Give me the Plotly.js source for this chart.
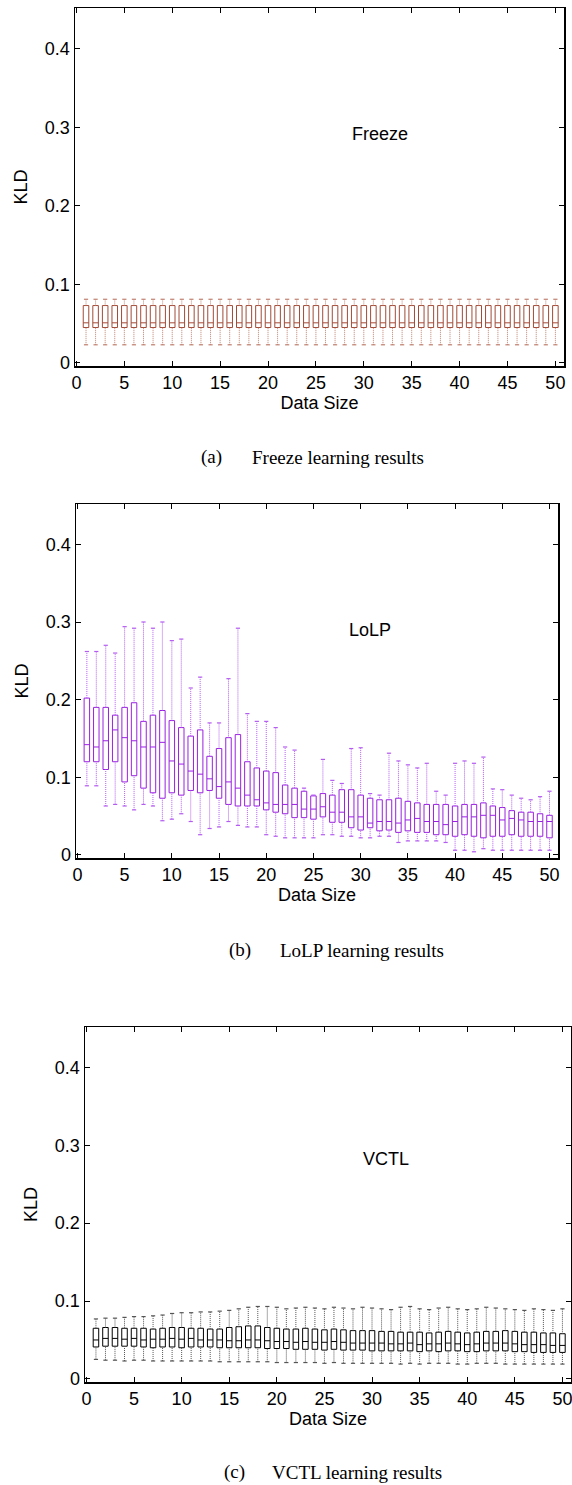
<!DOCTYPE html>
<html>
<head>
<meta charset="utf-8">
<script src="https://cdn.plot.ly/plotly-3.0.1.min.js"></script>
<style>html,body{margin:0;padding:0;background:#fff;}#chart{width:572px;height:1485px;}</style>
</head>
<body>
<div id="chart"></div>
<script>
// ---- data ----
const dataSize = [1,2,3,4,5,6,7,8,9,10,11,12,13,14,15,16,17,18,19,20,21,22,23,24,25,26,27,28,29,30,31,32,33,34,35,36,37,38,39,40,41,42,43,44,45,46,47,48,49,50];
const xTickVals = [0,5,10,15,20,25,30,35,40,45,50];
const yTickVals = [0,0.1,0.2,0.3,0.4];
const yTickText = ['0','0.1','0.2','0.3','0.4'];

// (a) Freeze
const freezeUpper = [0.081,0.081,0.081,0.081,0.081,0.081,0.081,0.081,0.081,0.081,0.081,0.081,0.081,0.081,0.081,0.081,0.081,0.081,0.081,0.081,0.081,0.081,0.081,0.081,0.081,0.081,0.081,0.081,0.081,0.081,0.081,0.081,0.081,0.081,0.081,0.081,0.081,0.081,0.081,0.081,0.081,0.081,0.081,0.081,0.081,0.081,0.081,0.081,0.081,0.081];
const freezeQ3 = [0.073,0.073,0.073,0.073,0.073,0.073,0.073,0.073,0.073,0.073,0.073,0.073,0.073,0.073,0.073,0.073,0.073,0.073,0.073,0.073,0.073,0.073,0.073,0.073,0.073,0.073,0.073,0.073,0.073,0.073,0.073,0.073,0.073,0.073,0.073,0.073,0.073,0.073,0.073,0.073,0.073,0.073,0.073,0.073,0.073,0.073,0.073,0.073,0.073,0.073];
const freezeMedian = [0.051,0.051,0.051,0.051,0.051,0.051,0.051,0.051,0.051,0.051,0.051,0.051,0.051,0.051,0.051,0.051,0.051,0.051,0.051,0.051,0.051,0.051,0.051,0.051,0.051,0.051,0.051,0.051,0.051,0.051,0.051,0.051,0.051,0.051,0.051,0.051,0.051,0.051,0.051,0.051,0.051,0.051,0.051,0.051,0.051,0.051,0.051,0.051,0.051,0.051];
const freezeQ1 = [0.045,0.045,0.045,0.045,0.045,0.045,0.045,0.045,0.045,0.045,0.045,0.045,0.045,0.045,0.045,0.045,0.045,0.045,0.045,0.045,0.045,0.045,0.045,0.045,0.045,0.045,0.045,0.045,0.045,0.045,0.045,0.045,0.045,0.045,0.045,0.045,0.045,0.045,0.045,0.045,0.045,0.045,0.045,0.045,0.045,0.045,0.045,0.045,0.045,0.045];
const freezeLower = [0.023,0.023,0.023,0.023,0.023,0.023,0.023,0.023,0.023,0.023,0.023,0.023,0.023,0.023,0.023,0.023,0.023,0.023,0.023,0.023,0.023,0.023,0.023,0.023,0.023,0.023,0.023,0.023,0.023,0.023,0.023,0.023,0.023,0.023,0.023,0.023,0.023,0.023,0.023,0.023,0.023,0.023,0.023,0.023,0.023,0.023,0.023,0.023,0.023,0.023];

// (b) LoLP
const lolpUpper = [0.262,0.262,0.270,0.260,0.294,0.292,0.300,0.292,0.300,0.276,0.278,0.215,0.229,0.170,0.170,0.227,0.292,0.182,0.172,0.172,0.164,0.139,0.135,0.086,0.077,0.123,0.096,0.092,0.137,0.138,0.079,0.077,0.131,0.121,0.116,0.112,0.118,0.082,0.077,0.118,0.121,0.118,0.126,0.085,0.084,0.077,0.073,0.071,0.075,0.082];
const lolpQ3 = [0.202,0.190,0.190,0.180,0.190,0.196,0.172,0.180,0.186,0.173,0.164,0.153,0.161,0.127,0.137,0.151,0.155,0.120,0.112,0.108,0.106,0.090,0.086,0.082,0.076,0.079,0.077,0.084,0.084,0.077,0.073,0.071,0.071,0.073,0.069,0.067,0.065,0.065,0.065,0.063,0.065,0.065,0.067,0.063,0.061,0.057,0.055,0.055,0.053,0.051];
const lolpMedian = [0.142,0.139,0.147,0.161,0.151,0.147,0.139,0.139,0.145,0.121,0.117,0.108,0.104,0.098,0.088,0.094,0.086,0.077,0.071,0.067,0.065,0.065,0.065,0.059,0.059,0.062,0.055,0.055,0.049,0.049,0.041,0.043,0.043,0.041,0.045,0.047,0.043,0.043,0.039,0.043,0.049,0.049,0.051,0.051,0.045,0.047,0.045,0.043,0.043,0.043];
const lolpQ1 = [0.120,0.120,0.110,0.120,0.094,0.102,0.086,0.080,0.073,0.080,0.077,0.083,0.080,0.083,0.073,0.065,0.063,0.063,0.063,0.058,0.055,0.053,0.048,0.048,0.046,0.049,0.042,0.042,0.035,0.032,0.035,0.031,0.032,0.029,0.031,0.029,0.029,0.026,0.026,0.024,0.026,0.024,0.022,0.024,0.024,0.026,0.024,0.024,0.024,0.022];
const lolpLower = [0.089,0.089,0.063,0.065,0.063,0.058,0.065,0.063,0.044,0.046,0.053,0.043,0.026,0.034,0.036,0.043,0.038,0.036,0.036,0.026,0.024,0.022,0.022,0.022,0.022,0.026,0.026,0.024,0.024,0.022,0.022,0.024,0.024,0.016,0.018,0.018,0.018,0.018,0.016,0.006,0.006,0.004,0.008,0.006,0.006,0.006,0.006,0.006,0.006,0.006];

// (c) VCTL
const vctlUpper = [0.077,0.078,0.078,0.079,0.080,0.080,0.081,0.082,0.084,0.085,0.085,0.086,0.086,0.087,0.088,0.090,0.092,0.093,0.093,0.092,0.090,0.091,0.092,0.091,0.090,0.092,0.091,0.090,0.092,0.091,0.090,0.089,0.092,0.093,0.090,0.089,0.091,0.092,0.090,0.089,0.090,0.092,0.091,0.090,0.089,0.088,0.090,0.089,0.088,0.090];
const vctlQ3 = [0.065,0.066,0.066,0.065,0.065,0.065,0.064,0.065,0.066,0.066,0.065,0.065,0.064,0.064,0.066,0.067,0.068,0.068,0.066,0.065,0.064,0.064,0.065,0.064,0.063,0.064,0.063,0.062,0.062,0.062,0.061,0.061,0.060,0.060,0.060,0.059,0.060,0.061,0.060,0.059,0.060,0.061,0.061,0.062,0.061,0.060,0.060,0.059,0.059,0.058];
const vctlMedian = [0.050,0.052,0.052,0.051,0.052,0.050,0.051,0.051,0.052,0.051,0.052,0.050,0.050,0.050,0.049,0.049,0.050,0.050,0.049,0.048,0.048,0.047,0.048,0.047,0.047,0.048,0.047,0.046,0.046,0.046,0.046,0.045,0.045,0.046,0.044,0.045,0.045,0.046,0.045,0.044,0.045,0.046,0.046,0.046,0.045,0.044,0.044,0.044,0.043,0.043];
const vctlQ1 = [0.041,0.042,0.042,0.042,0.042,0.041,0.040,0.041,0.041,0.040,0.041,0.041,0.041,0.040,0.040,0.040,0.040,0.040,0.039,0.039,0.039,0.038,0.038,0.038,0.037,0.038,0.037,0.037,0.037,0.036,0.036,0.036,0.036,0.036,0.035,0.036,0.035,0.036,0.036,0.035,0.035,0.036,0.036,0.036,0.035,0.035,0.034,0.034,0.034,0.034];
const vctlLower = [0.025,0.024,0.024,0.023,0.024,0.024,0.023,0.023,0.023,0.023,0.023,0.023,0.023,0.022,0.022,0.022,0.022,0.022,0.022,0.021,0.021,0.021,0.021,0.021,0.020,0.021,0.020,0.020,0.020,0.020,0.020,0.020,0.019,0.020,0.019,0.020,0.020,0.020,0.019,0.019,0.020,0.020,0.020,0.019,0.019,0.019,0.019,0.019,0.019,0.019];

const panelNames = ['Freeze','LoLP','VCTL'];
const captions = ['(a)','(b)','(c)'];
const captionTexts = ['Freeze learning results','LoLP learning results','VCTL learning results'];

// ---- build ----
const W = 572, H = 1485;
const panels = [
  {up:freezeUpper,q3:freezeQ3,med:freezeMedian,q1:freezeQ1,lo:freezeLower, box:'#a24a36', wh:'#c08070', px:[75,564], py:[8,366], cap:[211,250,457], lbl:[31.7,0.291]},
  {up:lolpUpper,q3:lolpQ3,med:lolpMedian,q1:lolpQ1,lo:lolpLower, box:'#9a1fe0', wh:'#b45cf0', px:[76,558], py:[504,858], cap:[240,278,950], lbl:[31,0.29]},
  {up:vctlUpper,q3:vctlQ3,med:vctlMedian,q1:vctlQ1,lo:vctlLower, box:'#000000', wh:'#555555', px:[85,571], py:[1027,1382], cap:[234,270,1472], lbl:[31.5,0.282]}
];

const traces = [];
const layout = {
  width: W, height: H,
  margin: {l:0,r:0,t:0,b:0},
  paper_bgcolor:'#fff', plot_bgcolor:'#fff',
  showlegend:false,
  font:{family:'Liberation Sans, Arial, sans-serif', color:'#000', size:18},
  annotations: []
};

panels.forEach((p,i) => {
  const n = i===0 ? '' : String(i+1);
  const xa = 'x'+n, ya = 'y'+n;
  traces.push({
    type:'box', x:dataSize, q1:p.q1, median:p.med, q3:p.q3,
    lowerfence:p.q1, upperfence:p.q3,
    xaxis:xa, yaxis:ya, width:0.58, whiskerwidth:0,
    line:{color:p.box, width:1}, fillcolor:'rgba(255,255,255,0)',
    boxpoints:false, hoverinfo:'skip'
  });
  const wx = [], wy = [];
  dataSize.forEach((s,k) => {
    wx.push(s,s,null,s,s,null);
    wy.push(p.q3[k],p.up[k],null,p.lo[k],p.q1[k],null);
  });
  traces.push({
    type:'scatter', mode:'lines', x:wx, y:wy, xaxis:xa, yaxis:ya,
    line:{color:p.wh, width:1, dash:'1px,1px'}, hoverinfo:'skip', connectgaps:false
  });
  traces.push({
    type:'scatter', mode:'markers', x:dataSize.concat(dataSize), y:p.up.concat(p.lo),
    xaxis:xa, yaxis:ya,
    marker:{symbol:'line-ew', size:3, line:{color:p.wh, width:1.2}}, hoverinfo:'skip'
  });
  const xd = [p.px[0]/W, p.px[1]/W];
  const yd = [1 - p.py[1]/H, 1 - p.py[0]/H];
  layout['xaxis'+n] = {
    domain:xd, anchor:ya, range:[-0.15,50.9],
    tickvals:xTickVals, ticks:'inside', ticklen:5, tickcolor:'#000',
    showline:true, linecolor:'#000', linewidth:1.5, mirror:'ticks',
    showgrid:false, zeroline:false, tickfont:{size:18}, ticklabeloverflow:'allow',
    title:{text:'Data Size', font:{size:18}, standoff:3}
  };
  layout['yaxis'+n] = {
    domain:yd, anchor:xa, range:[-0.004,0.452],
    tickvals:yTickVals, ticktext:yTickText, ticks:'inside', ticklen:5, tickcolor:'#000',
    showline:true, linecolor:'#000', linewidth:1.5, mirror:'ticks',
    showgrid:false, zeroline:false, tickfont:{size:18}, ticklabeloverflow:'allow',
    title:{text:'KLD', font:{size:18}, standoff:12}
  };
  layout.annotations.push({
    xref:xa, yref:ya, x:p.lbl[0], y:p.lbl[1], text:panelNames[i], showarrow:false,
    font:{size:18, family:'Liberation Sans, Arial, sans-serif'}
  });
  layout.annotations.push({
    xref:'paper', yref:'paper', x:p.cap[0]/W, y:1 - p.cap[2]/H, text:captions[i],
    showarrow:false, xanchor:'center', yanchor:'middle',
    font:{size:19, family:'Liberation Serif, Times New Roman, serif'}
  });
  layout.annotations.push({
    xref:'paper', yref:'paper', x:p.cap[1]/W, y:1 - p.cap[2]/H, text:captionTexts[i],
    showarrow:false, xanchor:'left', yanchor:'middle',
    font:{size:19, family:'Liberation Serif, Times New Roman, serif'}
  });
});

Plotly.newPlot('chart', traces, layout, {staticPlot:true, displayModeBar:false});
</script>
</body>
</html>
